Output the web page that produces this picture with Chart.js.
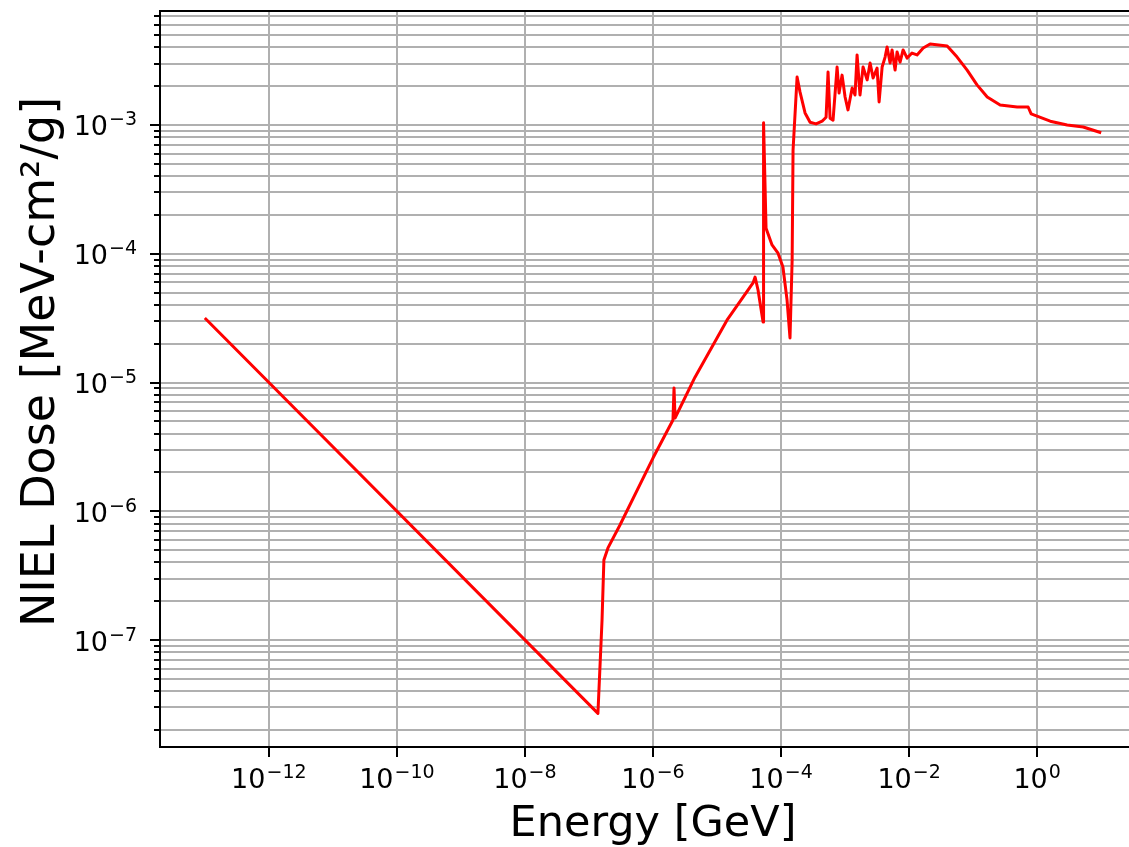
<!DOCTYPE html>
<html>
<head>
<meta charset="utf-8">
<title>NIEL Dose</title>
<script src="https://cdn.jsdelivr.net/npm/chart.js@4/dist/chart.umd.min.js"></script>
<style>
  html, body { margin: 0; padding: 0; background: #fff; overflow: hidden; }
  canvas { display: block; }
</style>
</head>
<body>
<canvas id="nielChart" width="1147" height="847"></canvas>
<script>
// neutron energy [GeV]
const energyGeV = [
  1e-13, 1.38e-7, 1.60e-7, 1.71e-7, 1.98e-7, 3.05e-7, 1.0e-6, 2.05e-6, 2.13e-6, 2.21e-6,
  4.53e-6, 1.43e-5, 3.65e-5, 3.93e-5, 4.37e-5, 5.24e-5, 5.33e-5, 5.83e-5, 7.23e-5, 8.97e-5,
  1.07e-4, 1.24e-4, 1.38e-4, 1.49e-4, 1.54e-4, 1.78e-4, 1.98e-4, 2.37e-4, 2.84e-4, 3.52e-4,
  4.38e-4, 5.05e-4, 5.42e-4, 5.83e-4, 6.49e-4, 7.50e-4, 8.06e-4, 8.98e-4, 1.0e-3, 1.11e-3,
  1.29e-3, 1.43e-3, 1.54e-3, 1.71e-3, 1.91e-3, 2.21e-3, 2.46e-3, 2.74e-3, 3.16e-3, 3.40e-3,
  3.79e-3, 4.22e-3, 4.53e-3, 5.05e-3, 5.42e-3, 6.04e-3, 6.49e-3, 7.23e-3, 8.06e-3, 9.31e-3,
  1.11e-2, 1.33e-2, 1.66e-2, 2.13e-2, 3.93e-2, 5.62e-2, 8.06e-2, 0.115, 0.166, 0.264,
  0.487, 0.723, 0.806, 1.60, 2.94, 5.24, 10
];
// NIEL dose [MeV-cm2/g]
const nielDose = [
  3.17e-5, 2.69e-8, 1.43e-7, 4.18e-7, 5.19e-7, 7.82e-7, 2.59e-6, 5.12e-6, 9.06e-6, 5.30e-6,
  1.10e-5, 3.05e-5, 5.93e-5, 6.59e-5, 5.23e-5, 2.95e-5, 1.04e-3, 1.58e-4, 1.17e-4, 1.01e-4,
  7.89e-5, 4.38e-5, 2.22e-5, 8.93e-5, 6.39e-4, 2.36e-3, 1.80e-3, 1.24e-3, 1.05e-3, 1.02e-3,
  1.07e-3, 1.15e-3, 2.58e-3, 1.13e-3, 1.09e-3, 2.82e-3, 1.77e-3, 2.44e-3, 1.65e-3, 1.31e-3,
  1.94e-3, 1.71e-3, 3.50e-3, 1.71e-3, 2.82e-3, 2.24e-3, 3.03e-3, 2.32e-3, 2.77e-3, 1.51e-3,
  2.82e-3, 3.37e-3, 4.03e-3, 3.03e-3, 3.83e-3, 2.67e-3, 3.69e-3, 3.08e-3, 3.83e-3, 3.31e-3,
  3.62e-3, 3.50e-3, 3.96e-3, 4.26e-3, 4.11e-3, 3.37e-3, 2.67e-3, 2.05e-3, 1.65e-3, 1.43e-3,
  1.38e-3, 1.38e-3, 1.22e-3, 1.07e-3, 1.00e-3, 9.65e-4, 8.7e-4
];

// labelled decades (exponents of 10)
const xTickExps = [-12, -10, -8, -6, -4, -2, 0];
const yTickExps = [-7, -6, -5, -4, -3];

// axis limits
const xMin = 10 ** -13.7, xMax = 10 ** 1.7;
const yMin = 10 ** -7.831, yMax = 10 ** -2.1146;

const xTitle = "Energy [GeV]";
const yTitle = "NIEL Dose [MeV-cm²/g]";

const FONT = "'DejaVu Sans', sans-serif";
Chart.defaults.font.family = FONT;

const points = energyGeV.map((e, i) => ({ x: e, y: nielDose[i] }));

// y grid: every 1..9 x 10^n inside the limits
const yGridValues = [];
for (let exp = -8; exp <= -2; exp++) {
  for (let m = 1; m <= 9; m++) {
    const v = m * 10 ** exp;
    if (v >= yMin && v <= yMax) yGridValues.push(v);
  }
}
const xGridValues = xTickExps.map(e => 10 ** e);

function isLabelled(v, exps) {
  const e = Math.round(Math.log10(v));
  return Math.abs(Math.log10(v) - e) < 1e-9 && exps.includes(e);
}

// "10" with a raised exponent
function drawPow(ctx, x, baseY, exp, align) {
  const base = "10";
  const sup = exp < 0 ? "\u2212" + Math.abs(exp) : String(exp);
  ctx.font = "27px " + FONT;
  const wb = ctx.measureText(base).width;
  ctx.font = "19px " + FONT;
  const ws = ctx.measureText(sup).width;
  const w = wb + ws + 1;
  const x0 = align === "center" ? x - w / 2 : x - w;
  ctx.textAlign = "left";
  ctx.textBaseline = "alphabetic";
  ctx.font = "27px " + FONT;
  ctx.fillText(base, x0, baseY);
  ctx.font = "19px " + FONT;
  ctx.fillText(sup, x0 + wb + 1, baseY - 10);
}

// top spine, tick marks, power-of-ten labels and the y title
const axisDecor = {
  id: "axisDecor",
  afterDraw(chart) {
    const { ctx, chartArea: area } = chart;
    const xs = chart.scales.x, ys = chart.scales.y;
    ctx.save();
    ctx.strokeStyle = "#000";
    ctx.lineWidth = 2;
    ctx.beginPath();
    ctx.moveTo(area.left - 1, area.top);
    ctx.lineTo(area.right, area.top);
    ctx.stroke();

    ctx.beginPath();
    xs.ticks.forEach(t => {
      const px = Math.round(xs.getPixelForValue(t.value));
      ctx.moveTo(px, area.bottom);
      ctx.lineTo(px, area.bottom + 10);
    });
    ys.ticks.forEach(t => {
      const py = Math.round(ys.getPixelForValue(t.value));
      const len = isLabelled(t.value, yTickExps) ? 10 : 6;
      ctx.moveTo(area.left - len, py);
      ctx.lineTo(area.left, py);
    });
    ctx.stroke();

    ctx.fillStyle = "#000";
    xs.ticks.forEach(t => {
      const px = xs.getPixelForValue(t.value);
      drawPow(ctx, px, area.bottom + 41, Math.round(Math.log10(t.value)), "center");
    });
    ys.ticks.forEach(t => {
      if (!isLabelled(t.value, yTickExps)) return;
      const py = ys.getPixelForValue(t.value);
      drawPow(ctx, area.left - 23, py + 10.5, Math.round(Math.log10(t.value)), "right");
    });

    // rotated y title
    ctx.translate(54, 362);
    ctx.rotate(-Math.PI / 2);
    ctx.font = "46px " + FONT;
    ctx.textAlign = "center";
    ctx.textBaseline = "alphabetic";
    ctx.fillText(yTitle, 0, 0);
    ctx.restore();
  }
};

const gridStyle = { color: "#b0b0b0", lineWidth: 2, drawTicks: false };
const spine = { display: true, color: "#000", width: 2 };

const config = {
  type: "scatter",
  data: {
    datasets: [{
      data: points,
      showLine: true,
      borderColor: "#ff0000",
      borderWidth: 3,
      borderJoinStyle: "round",
      pointRadius: 0,
      tension: 0
    }]
  },
  options: {
    responsive: false,
    animation: false,
    events: [],
    layout: { padding: { top: 11, right: 1, bottom: 0, left: 0 } },
    plugins: { legend: { display: false }, tooltip: { enabled: false } },
    scales: {
      x: {
        type: "logarithmic",
        min: xMin,
        max: xMax,
        bounds: "data",
        grid: gridStyle,
        border: spine,
        ticks: { display: false, autoSkip: false },
        afterBuildTicks: s => { s.ticks = xGridValues.map(v => ({ value: v })); },
        afterFit: s => { s.height = 100; },
        title: {
          display: true,
          text: xTitle,
          color: "#000",
          font: { size: 43, lineHeight: 1 },
          padding: { top: 0, bottom: 0.5 }
        }
      },
      y: {
        type: "logarithmic",
        min: yMin,
        max: yMax,
        bounds: "data",
        grid: gridStyle,
        border: spine,
        ticks: { display: false, autoSkip: false },
        afterBuildTicks: s => { s.ticks = yGridValues.map(v => ({ value: v })); },
        afterFit: s => { s.width = 160; }
      }
    }
  },
  plugins: [axisDecor]
};

const chart = new Chart(document.getElementById("nielChart").getContext("2d"), config);
</script>
</body>
</html>
